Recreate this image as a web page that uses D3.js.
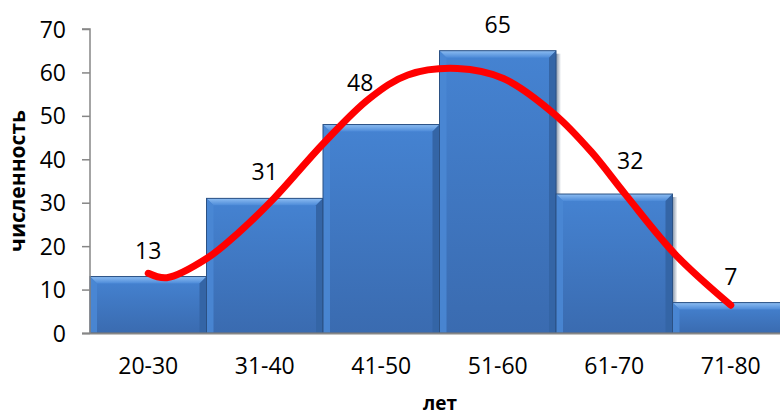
<!DOCTYPE html>
<html><head><meta charset="utf-8">
<script src="https://cdn.jsdelivr.net/npm/d3@7"></script>
<style>html,body{margin:0;padding:0;background:#fff;overflow:hidden}svg{display:block}</style>
</head><body><svg id="c" width="780" height="416"></svg>
<script>
// ---- data ----
const categories = ["20-30","31-40","41-50","51-60","61-70","71-80"];
const counts = [13, 31, 48, 65, 32, 7];
const yTicks = [0,10,20,30,40,50,60,70];
// smoothed red curve (x in category index units, y in counts)
const curveIdx = [0, 0.159, 0.504, 0.783, 1.079, 1.505, 1.899, 2.228, 2.655, 3.049, 3.491, 3.804, 4.099, 4.527, 5.0];
const curveVal = [13.75, 12.73, 17.2, 23.3, 31.0, 43.7, 54.0, 59.4, 60.9, 58.6, 50.3, 41.7, 31.8, 18.0, 6.4];
const xTitle = "лет";
const yTitle = "численность";

// ---- layout ----
const mL = 90, mR = 789, mT = 29, mB = 333;
const labelNudge = [[0,0],[0,0],[-21,-16],[0,0],[16,-7],[0,0]];
const FONT = "'Open Sans', 'Liberation Sans', sans-serif";

const svg = d3.select("#c");
const x = d3.scaleBand().domain(categories).range([mL, mR]).padding(0);
const y = d3.scaleLinear().domain([0,70]).range([mB, mT]);
const xi = d3.scaleLinear().domain([0, categories.length-1])
  .range([x(categories[0]) + x.bandwidth()/2, x(categories[categories.length-1]) + x.bandwidth()/2]);

const defs = svg.append("defs");
const g1 = defs.append("linearGradient").attr("id","face").attr("x1",0).attr("y1",0).attr("x2",0).attr("y2",1);
g1.append("stop").attr("offset","0%").attr("stop-color","#4583d2");
g1.append("stop").attr("offset","100%").attr("stop-color","#3a6bb0");
const g2 = defs.append("linearGradient").attr("id","topb").attr("x1",0).attr("y1",0).attr("x2",0).attr("y2",1);
g2.append("stop").attr("offset","0%").attr("stop-color","#8dbdf2");
g2.append("stop").attr("offset","100%").attr("stop-color","#4c8ad8");
const g3 = defs.append("linearGradient").attr("id","rs").attr("x1",0).attr("y1",0).attr("x2",1).attr("y2",0);
g3.append("stop").attr("offset","0%").attr("stop-color","#1e3a60").attr("stop-opacity",0.55);
g3.append("stop").attr("offset","100%").attr("stop-color","#1e3a60").attr("stop-opacity",0);

// ---- bars ----
const b = 7;
const bars = svg.append("g");
categories.forEach((c,i) => {
  const x0 = x(c), x1 = x(c) + x.bandwidth(), y0 = y(counts[i]), y1 = y(0);
  const g = bars.append("g");
  g.append("rect").attr("x", x1).attr("y", y0+3).attr("width", 5).attr("height", y1-y0-3).attr("fill","url(#rs)");
  g.append("rect").attr("x", x0).attr("y", y0).attr("width", x1-x0).attr("height", y1-y0).attr("fill","url(#face)");
  g.append("polygon").attr("points", [[x0,y0],[x1,y0],[x1-b,y0+b],[x0+b,y0+b]].join(" ")).attr("fill","url(#topb)");
  g.append("polygon").attr("points", [[x0,y0],[x0+b,y0+b],[x0+b,y1],[x0,y1]].join(" ")).attr("fill","#4a87d4").attr("opacity",0.9);
  g.append("polygon").attr("points", [[x1,y0],[x1-b,y0+b],[x1-b,y1],[x1,y1]].join(" ")).attr("fill","#3465a6");
  g.append("rect").attr("x", x0).attr("y", y0).attr("width", x1-x0).attr("height", y1-y0)
    .attr("fill","none").attr("stroke","#2b5184").attr("stroke-width",1);
});

// ---- axes ----
const yAxis = d3.axisLeft(y).tickValues(yTicks).tickSize(8).tickPadding(16);
const ya = svg.append("g").attr("transform",`translate(${mL},0)`).call(yAxis);
ya.select(".domain").attr("stroke","#868686").attr("stroke-width",1.5).attr("d",`M-8,${mT}H0V${mB}`);
ya.selectAll(".tick line").attr("stroke","#868686").attr("stroke-width",1.5);
ya.selectAll(".tick text").attr("font-family",FONT).attr("font-size",23).attr("fill","#000").attr("dy","0.35em");

const xAxis = d3.axisBottom(x).tickSize(0).tickPadding(25);
const xa = svg.append("g").attr("transform",`translate(0,${mB})`).call(xAxis);
xa.select(".domain").attr("stroke","#868686").attr("stroke-width",2).attr("d",`M${mL-8},0.5H${mR}`);
xa.selectAll(".tick text").attr("font-family",FONT).attr("font-size",23).attr("fill","#000");

// ---- curve ----
const line = d3.line().x((d,i)=>xi(curveIdx[i])).y(d=>y(d)).curve(d3.curveCatmullRom.alpha(0.5));
svg.append("path").datum(curveVal).attr("d", line).attr("fill","none")
  .attr("stroke","#ff0000").attr("stroke-width",7).attr("stroke-linecap","round");

// ---- data labels ----
svg.append("g").selectAll("text").data(counts).join("text")
  .attr("x",(d,i)=>x(categories[i]) + x.bandwidth()/2 + labelNudge[i][0])
  .attr("y",(d,i)=>y(d) - 18 + labelNudge[i][1])
  .attr("text-anchor","middle").attr("font-family",FONT).attr("font-size",23).attr("fill","#000")
  .text(d=>d);

// ---- titles ----
svg.append("text").attr("x",440).attr("y",410).attr("text-anchor","middle")
  .attr("font-family",FONT).attr("font-weight","bold").attr("font-size",19).attr("fill","#000").text(xTitle);
svg.append("text").attr("transform","translate(25,181) rotate(-90)").attr("text-anchor","middle")
  .attr("font-family",FONT).attr("font-weight","bold").attr("font-size",21).attr("fill","#000").text(yTitle);
</script></body></html>
